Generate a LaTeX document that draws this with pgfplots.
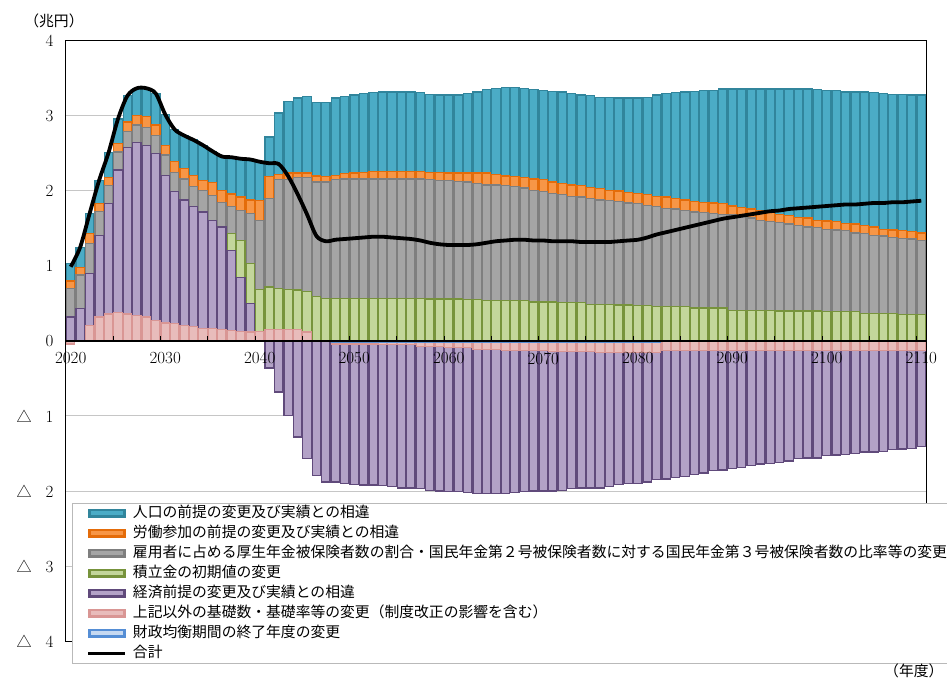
\documentclass[border=0pt]{standalone}
\usepackage{fontspec}
\usepackage{pgfplots}
\usepackage{pgfplotstable}
\pgfplotsset{compat=1.18}
\newfontfamily\cjk{Noto Sans CJK JP}

\definecolor{tealF}{RGB}{75,172,198}  \definecolor{tealD}{RGB}{49,133,156}
\definecolor{oraF}{RGB}{247,150,70}   \definecolor{oraD}{RGB}{228,108,10}
\definecolor{grayF}{RGB}{165,165,165} \definecolor{grayD}{RGB}{127,127,127}
\definecolor{grnF}{RGB}{195,214,155}  \definecolor{grnD}{RGB}{119,147,60}
\definecolor{purF}{RGB}{179,162,199}  \definecolor{purD}{RGB}{96,74,123}
\definecolor{pinkF}{RGB}{232,188,187} \definecolor{pinkD}{RGB}{217,150,148}
\definecolor{bluF}{RGB}{198,217,241}  \definecolor{bluD}{RGB}{85,142,213}

% positive parts, stacked upward
\pgfplotstableread{
year pink purple green gray orange teal
2020 0 0.32 0 0.38 0.10 0.23
2021 0 0.43 0 0.45 0.10 0.27
2022 0.21 0.69 0 0.40 0.13 0.27
2023 0.32 1.09 0 0.32 0.10 0.31
2024 0.36 1.47 0 0.24 0.11 0.33
2025 0.38 1.90 0 0.24 0.11 0.33
2026 0.36 2.22 0 0.21 0.13 0.35
2027 0.34 2.31 0 0.23 0.13 0.36
2028 0.32 2.29 0 0.24 0.14 0.38
2029 0.27 2.23 0 0.24 0.14 0.42
2030 0.24 1.97 0 0.27 0.13 0.41
2031 0.23 1.76 0 0.26 0.14 0.43
2032 0.21 1.67 0 0.28 0.14 0.44
2033 0.19 1.60 0 0.27 0.15 0.47
2034 0.17 1.55 0 0.29 0.13 0.47
2035 0.17 1.44 0 0.33 0.17 0.42
2036 0.15 1.37 0 0.33 0.16 0.45
2037 0.14 1.07 0.22 0.36 0.17 0.49
2038 0.13 0.72 0.49 0.40 0.18 0.51
2039 0.12 0.38 0.53 0.67 0.18 0.54
2040 0.13 0 0.56 0.92 0.26 0.52
2041 0.15 0 0.57 1.18 0.29 0.53
2042 0.15 0 0.55 1.45 0.07 0.82
2043 0.15 0 0.54 1.46 0.09 0.95
2044 0.15 0 0.53 1.50 0.06 1.00
2045 0.12 0 0.54 1.52 0.06 1.02
2046 0 0 0.59 1.53 0.08 0.98
2047 0 0 0.57 1.55 0.07 0.99
2048 0 0 0.57 1.58 0.06 1.03
2049 0 0 0.57 1.59 0.07 1.03
2050 0 0 0.57 1.59 0.08 1.04
2051 0 0 0.57 1.59 0.09 1.05
2052 0 0 0.57 1.59 0.10 1.05
2053 0 0 0.57 1.59 0.10 1.06
2054 0 0 0.57 1.59 0.10 1.06
2055 0 0 0.57 1.59 0.10 1.06
2056 0 0 0.57 1.59 0.10 1.06
2057 0 0 0.57 1.59 0.10 1.05
2058 0 0 0.56 1.59 0.10 1.04
2059 0 0 0.56 1.58 0.11 1.03
2060 0 0 0.56 1.58 0.10 1.04
2061 0 0 0.56 1.57 0.11 1.04
2062 0 0 0.55 1.57 0.12 1.06
2063 0 0 0.55 1.55 0.14 1.08
2064 0 0 0.54 1.54 0.16 1.11
2065 0 0 0.54 1.54 0.14 1.15
2066 0 0 0.54 1.53 0.13 1.18
2067 0 0 0.54 1.52 0.13 1.19
2068 0 0 0.54 1.50 0.14 1.19
2069 0 0 0.52 1.49 0.15 1.19
2070 0 0 0.52 1.47 0.16 1.19
2071 0 0 0.52 1.45 0.15 1.21
2072 0 0 0.51 1.44 0.15 1.22
2073 0 0 0.51 1.42 0.15 1.22
2074 0 0 0.51 1.41 0.15 1.21
2075 0 0 0.49 1.41 0.15 1.22
2076 0 0 0.49 1.39 0.15 1.22
2077 0 0 0.49 1.38 0.14 1.24
2078 0 0 0.48 1.38 0.14 1.24
2079 0 0 0.48 1.36 0.14 1.26
2080 0 0 0.47 1.36 0.14 1.27
2081 0 0 0.47 1.34 0.14 1.30
2082 0 0 0.46 1.33 0.14 1.35
2083 0 0 0.46 1.31 0.15 1.38
2084 0 0 0.46 1.30 0.14 1.41
2085 0 0 0.46 1.28 0.14 1.44
2086 0 0 0.44 1.28 0.14 1.47
2087 0 0 0.44 1.27 0.14 1.49
2088 0 0 0.44 1.26 0.14 1.50
2089 0 0 0.44 1.25 0.14 1.53
2090 0 0 0.41 1.27 0.12 1.56
2091 0 0 0.41 1.25 0.12 1.58
2092 0 0 0.41 1.23 0.12 1.60
2093 0 0 0.41 1.20 0.13 1.62
2094 0 0 0.41 1.18 0.12 1.65
2095 0 0 0.40 1.18 0.11 1.67
2096 0 0 0.40 1.16 0.11 1.69
2097 0 0 0.40 1.14 0.11 1.71
2098 0 0 0.40 1.12 0.12 1.72
2099 0 0 0.40 1.11 0.10 1.74
2100 0 0 0.39 1.10 0.11 1.74
2101 0 0 0.39 1.09 0.11 1.75
2102 0 0 0.39 1.08 0.10 1.75
2103 0 0 0.39 1.05 0.12 1.76
2104 0 0 0.37 1.06 0.11 1.78
2105 0 0 0.37 1.04 0.11 1.79
2106 0 0 0.37 1.03 0.09 1.81
2107 0 0 0.37 1.01 0.10 1.81
2108 0 0 0.35 1.02 0.10 1.82
2109 0 0 0.35 1.01 0.10 1.82
2110 0 0 0.35 0.99 0.10 1.84
}\pos

% negative parts, stacked downward
\pgfplotstableread{
year blue pink purple
2020 0 -0.04 0
2021 0 0 0
2022 0 0 0
2023 0 0 0
2024 0 0 0
2025 0 0 0
2026 0 0 0
2027 0 0 0
2028 0 0 0
2029 0 0 0
2030 0 0 0
2031 0 0 0
2032 0 0 0
2033 0 0 0
2034 0 0 0
2035 0 0 0
2036 0 0 0
2037 0 0 0
2038 0 0 0
2039 0 0 0
2040 0 0 0
2041 0 0 -0.36
2042 0 0 -0.68
2043 0 0 -0.99
2044 0 0 -1.28
2045 0 0 -1.57
2046 0 -0.01 -1.78
2047 0 -0.01 -1.87
2048 -0.02 -0.02 -1.84
2049 -0.02 -0.02 -1.86
2050 -0.02 -0.02 -1.87
2051 -0.02 -0.02 -1.88
2052 -0.02 -0.02 -1.88
2053 -0.02 -0.03 -1.88
2054 -0.02 -0.03 -1.89
2055 -0.02 -0.03 -1.91
2056 -0.02 -0.03 -1.91
2057 -0.02 -0.05 -1.90
2058 -0.02 -0.05 -1.92
2059 -0.02 -0.05 -1.93
2060 -0.02 -0.07 -1.92
2061 -0.02 -0.07 -1.92
2062 -0.02 -0.07 -1.93
2063 -0.02 -0.09 -1.92
2064 -0.02 -0.09 -1.92
2065 -0.02 -0.09 -1.92
2066 -0.02 -0.11 -1.90
2067 -0.02 -0.11 -1.89
2068 -0.02 -0.11 -1.88
2069 -0.02 -0.11 -1.87
2070 -0.02 -0.11 -1.87
2071 -0.02 -0.12 -1.86
2072 -0.02 -0.12 -1.85
2073 -0.02 -0.12 -1.83
2074 -0.02 -0.12 -1.82
2075 -0.02 -0.12 -1.82
2076 -0.02 -0.13 -1.81
2077 -0.02 -0.13 -1.79
2078 -0.02 -0.13 -1.76
2079 -0.02 -0.13 -1.75
2080 -0.02 -0.13 -1.75
2081 -0.02 -0.13 -1.73
2082 -0.02 -0.13 -1.70
2083 0 -0.13 -1.71
2084 0 -0.13 -1.69
2085 0 -0.13 -1.68
2086 0 -0.13 -1.65
2087 0 -0.13 -1.63
2088 0 -0.13 -1.60
2089 0 -0.13 -1.59
2090 0 -0.13 -1.57
2091 0 -0.13 -1.56
2092 0 -0.13 -1.53
2093 0 -0.13 -1.51
2094 0 -0.13 -1.50
2095 0 -0.13 -1.49
2096 0 -0.13 -1.47
2097 0 -0.13 -1.44
2098 0 -0.13 -1.43
2099 0 -0.13 -1.43
2100 0 -0.13 -1.40
2101 0 -0.13 -1.39
2102 0 -0.13 -1.38
2103 0 -0.13 -1.37
2104 0 -0.13 -1.35
2105 0 -0.13 -1.35
2106 0 -0.13 -1.34
2107 0 -0.13 -1.32
2108 0 -0.13 -1.31
2109 0 -0.13 -1.30
2110 0 -0.13 -1.28
}\negpart

\pgfplotstableread{
year total
2020 0.99
2021 1.25
2022 1.70
2023 2.14
2024 2.51
2025 2.96
2026 3.27
2027 3.37
2028 3.37
2029 3.30
2030 3.02
2031 2.82
2032 2.74
2033 2.68
2034 2.61
2035 2.53
2036 2.46
2037 2.45
2038 2.43
2039 2.42
2040 2.39
2041 2.37
2042 2.36
2043 2.20
2044 1.96
2045 1.69
2046 1.40
2047 1.33
2048 1.35
2049 1.36
2050 1.37
2051 1.38
2052 1.39
2053 1.39
2054 1.38
2055 1.37
2056 1.36
2057 1.34
2058 1.31
2059 1.29
2060 1.28
2061 1.28
2062 1.28
2063 1.29
2064 1.31
2065 1.33
2066 1.34
2067 1.35
2068 1.35
2069 1.34
2070 1.34
2071 1.33
2072 1.33
2073 1.33
2074 1.32
2075 1.32
2076 1.32
2077 1.32
2078 1.33
2079 1.34
2080 1.35
2081 1.38
2082 1.42
2083 1.45
2084 1.48
2085 1.51
2086 1.54
2087 1.57
2088 1.60
2089 1.63
2090 1.65
2091 1.67
2092 1.69
2093 1.71
2094 1.73
2095 1.74
2096 1.76
2097 1.77
2098 1.78
2099 1.79
2100 1.80
2101 1.81
2102 1.82
2103 1.82
2104 1.83
2105 1.84
2106 1.84
2107 1.85
2108 1.85
2109 1.86
2110 1.87
}\total

\pgfplotsset{
  base/.style={scale only axis, width=860pt, height=600pt,
    xmin=2019.5, xmax=2110.5, ymin=-4, ymax=4, enlargelimits=false},
  seg/.style 2 args={fill=#1, draw=#2, line width=1.2pt},
  barleg/.style={legend image code/.code={
    \draw[##1, line width=2.6pt] (0pt,-3.4pt) rectangle (35pt,3.4pt);}},
  lineleg/.style={legend image code/.code={
    \draw[##1] (-1pt,0pt) -- (36pt,0pt);}},
}

\begin{document}
\begin{tikzpicture}
% positive bars, frame and grid
\begin{axis}[base, ybar stacked, bar width=8.3pt,
  xtick=\empty,
  ytick={-4,-3,...,4},
  yticklabels={{\cjk\fontsize{15}{17}\selectfont △}\hspace{14pt}4,
               {\cjk\fontsize{15}{17}\selectfont △}\hspace{14pt}3,
               {\cjk\fontsize{15}{17}\selectfont △}\hspace{14pt}2,
               {\cjk\fontsize{15}{17}\selectfont △}\hspace{14pt}1,
               0,1,2,3,4},
  major tick length=0pt,
  ymajorgrids, grid style={gray!45, line width=1pt},
  axis line style={black, line width=1pt},
  tick label style={font=\fontsize{17}{20}\selectfont},
  yticklabel style={xshift=-9pt},
]
\addplot[seg={pinkF}{pinkD}] table[x=year, y=pink] {\pos};
\addplot[seg={purF}{purD}] table[x=year, y=purple] {\pos};
\addplot[seg={grnF}{grnD}] table[x=year, y=green] {\pos};
\addplot[seg={grayF}{grayD}] table[x=year, y=gray] {\pos};
\addplot[seg={oraF}{oraD}] table[x=year, y=orange] {\pos};
\addplot[seg={tealF}{tealD}] table[x=year, y=teal] {\pos};
\end{axis}

% negative bars
\begin{axis}[base, ybar stacked, bar width=8.3pt, hide axis]
\addplot[seg={bluF}{bluD}] table[x=year, y=blue] {\negpart};
\addplot[seg={pinkF}{pinkD}] table[x=year, y=pink] {\negpart};
\addplot[seg={purF}{purD}] table[x=year, y=purple] {\negpart};
\end{axis}

% zero line, total line, legend
\begin{axis}[base,
  axis x line=middle, axis y line=none,
  x axis line style={-, black, line width=1.3pt},
  ytick=\empty,
  xtick={2020,2030,...,2110},
  xticklabels={2020,2030,2040,2050,2060,2070,2080,2090,2100,2110},
  minor xtick={2024.5,2029.5,...,2109.5},
  major tick length=0pt, minor tick length=5pt,
  xtick align=inside,
  minor x tick style={black, line width=1pt},
  tick label style={font=\fontsize{17}{20}\selectfont},
  xticklabel style={yshift=-8pt},
  legend cell align=left,
  legend style={at={(0.00698,0.23)}, anchor=north west,
    draw=gray!55, line width=1pt, fill=white,
    font=\cjk\fontsize{14.8}{17}\selectfont,
    inner xsep=14pt, inner ysep=3pt, row sep=6.5pt, column sep=6pt,
    nodes={inner sep=0pt, text height=10.5pt, text depth=3pt}},
]
\addplot[black, line width=3.8pt, smooth, forget plot] table[x=year, y=total] {\total};
\addlegendimage{barleg, fill=tealF, draw=tealD}
\addlegendentry{人口の前提の変更及び実績との相違}
\addlegendimage{barleg, fill=oraF, draw=oraD}
\addlegendentry{労働参加の前提の変更及び実績との相違}
\addlegendimage{barleg, fill=grayF, draw=grayD}
\addlegendentry{雇用者に占める厚生年金被保険者数の割合・国民年金第２号被保険者数に対する国民年金第３号被保険者数の比率等の変更}
\addlegendimage{barleg, fill=grnF, draw=grnD}
\addlegendentry{積立金の初期値の変更}
\addlegendimage{barleg, fill=purF, draw=purD}
\addlegendentry{経済前提の変更及び実績との相違}
\addlegendimage{barleg, fill=pinkF, draw=pinkD}
\addlegendentry{上記以外の基礎数・基礎率等の変更（制度改正の影響を含む）}
\addlegendimage{barleg, fill=bluF, draw=bluD}
\addlegendentry{財政均衡期間の終了年度の変更}
\addlegendimage{lineleg, black, line width=3.5pt}
\addlegendentry{合計}
\end{axis}

\node[font=\cjk\fontsize{14.8}{17}\selectfont] at (-12pt,620pt) {（兆円）};
\node[anchor=west, inner sep=0pt, font=\cjk\fontsize{14.8}{17}\selectfont] at (818pt,-30pt) {（年度）};
\pgfresetboundingbox
\useasboundingbox (-66pt,-42pt) rectangle (881pt,641pt);
\end{tikzpicture}
\end{document}
